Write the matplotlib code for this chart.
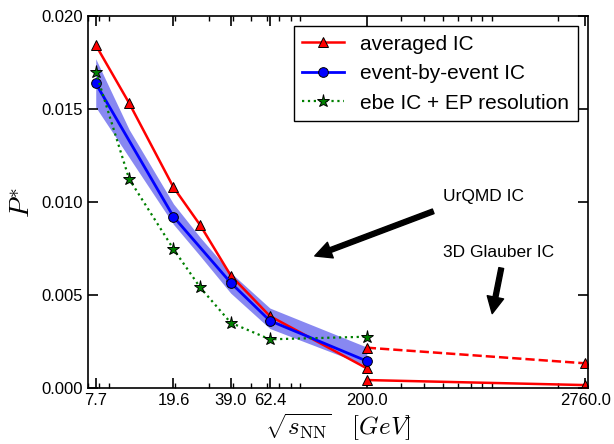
import numpy as np
import matplotlib
matplotlib.use('Agg')
import matplotlib.pyplot as plt

plt.rcParams['font.family'] = ['Liberation Sans', 'DejaVu Sans']
plt.rcParams['mathtext.fontset'] = 'cm'

# collision energies
energies = [7.7, 11.5, 19.6, 27.0, 39.0, 62.4, 200.0]
ebe_energies = [7.7, 19.6, 39.0, 62.4, 200.0]
lhc_energies = [200.0, 2760.0]

# P* values
p_avg = [0.01844, 0.01532, 0.01079, 0.00876, 0.00605, 0.00387, 0.00106]
p_ebe = [0.01638, 0.00921, 0.00566, 0.00362, 0.00145]
p_ebe_ep = [0.01701, 0.01124, 0.00747, 0.00541, 0.00351, 0.00262, 0.00276]
band_lo = [0.0151, 0.0124, 0.0088, 0.0071, 0.0051, 0.0032, 0.0012]
band_hi = [0.0177, 0.0139, 0.0099, 0.0081, 0.0062, 0.0043, 0.0022]
p_urqmd_lhc = [0.00043, 0.00016]
p_glauber_lhc = [0.00217, 0.00133]

xtick_vals = [7.7, 19.6, 39.0, 62.4, 200.0, 2760.0]
xtick_labels = ['7.7', '19.6', '39.0', '62.4', '200.0', '2760.0']

fig = plt.figure(figsize=(6.14, 4.44), dpi=100)
ax = fig.add_axes([0.143, 0.126, 0.815, 0.838])

ax.fill_between(energies, band_lo, band_hi, color='#7b7bf0', alpha=0.9, lw=0)
ax.plot(energies, p_avg, '-^', color='r', lw=1.8, ms=7.5, mec='k', mew=0.7,
        label='averaged IC')
ax.plot(ebe_energies, p_ebe, '-o', color='b', lw=2.0, ms=7, mfc='b', mec='k',
        mew=0.7, label='event-by-event IC')
ax.plot(energies, p_ebe_ep, ':*', color='g', lw=1.6, ms=9.5, mfc='g', mec='k',
        mew=0.7, label='ebe IC + EP resolution')
ax.plot(lhc_energies, p_urqmd_lhc, '-^', color='r', lw=1.8, ms=7.5, mec='k', mew=0.7)
ax.plot(lhc_energies, p_glauber_lhc, '--^', color='r', lw=1.8, ms=7.5, mec='k', mew=0.7)

arrow = dict(facecolor='black', edgecolor='black', width=3.5, headwidth=12,
             headlength=12, shrink=0)
ax.annotate('', xy=(107, 0.0071), xytext=(444, 0.0095), arrowprops=arrow)
ax.annotate('', xy=(902, 0.0040), xytext=(1006, 0.00645), arrowprops=arrow)
ax.text(500, 0.01027, 'UrQMD IC', fontsize=12.5, va='center', ha='left')
ax.text(500, 0.00726, '3D Glauber IC', fontsize=12.5, va='center', ha='left')

ax.set_xscale('log')
ax.set_xlim(7.0, 2860)
ax.set_ylim(0, 0.020)
ax.set_xticks(xtick_vals)
ax.set_xticklabels(xtick_labels)
ax.set_yticks([0, 0.005, 0.010, 0.015, 0.020])
ax.set_yticklabels(['0.000', '0.005', '0.010', '0.015', '0.020'])
ax.tick_params(which='both', direction='in', top=True, right=True, labelsize=12)
ax.tick_params(which='major', length=7, width=1.2)
ax.tick_params(which='minor', length=3.5, width=1)
for s in ax.spines.values():
    s.set_linewidth(1.2)

ax.set_xlabel(r'$\sqrt{s_{\rm NN}}\quad[GeV]$', fontsize=18, labelpad=2.5)
ax.set_ylabel(r'$P^{*}$', fontsize=20, labelpad=4)

leg = ax.legend(loc='upper right', fontsize=15, numpoints=1, fancybox=False,
                framealpha=1, handlelength=2.0)
leg.get_frame().set_edgecolor('k')
leg.get_frame().set_linewidth(1.0)

fig.savefig('out.png', dpi=100)
